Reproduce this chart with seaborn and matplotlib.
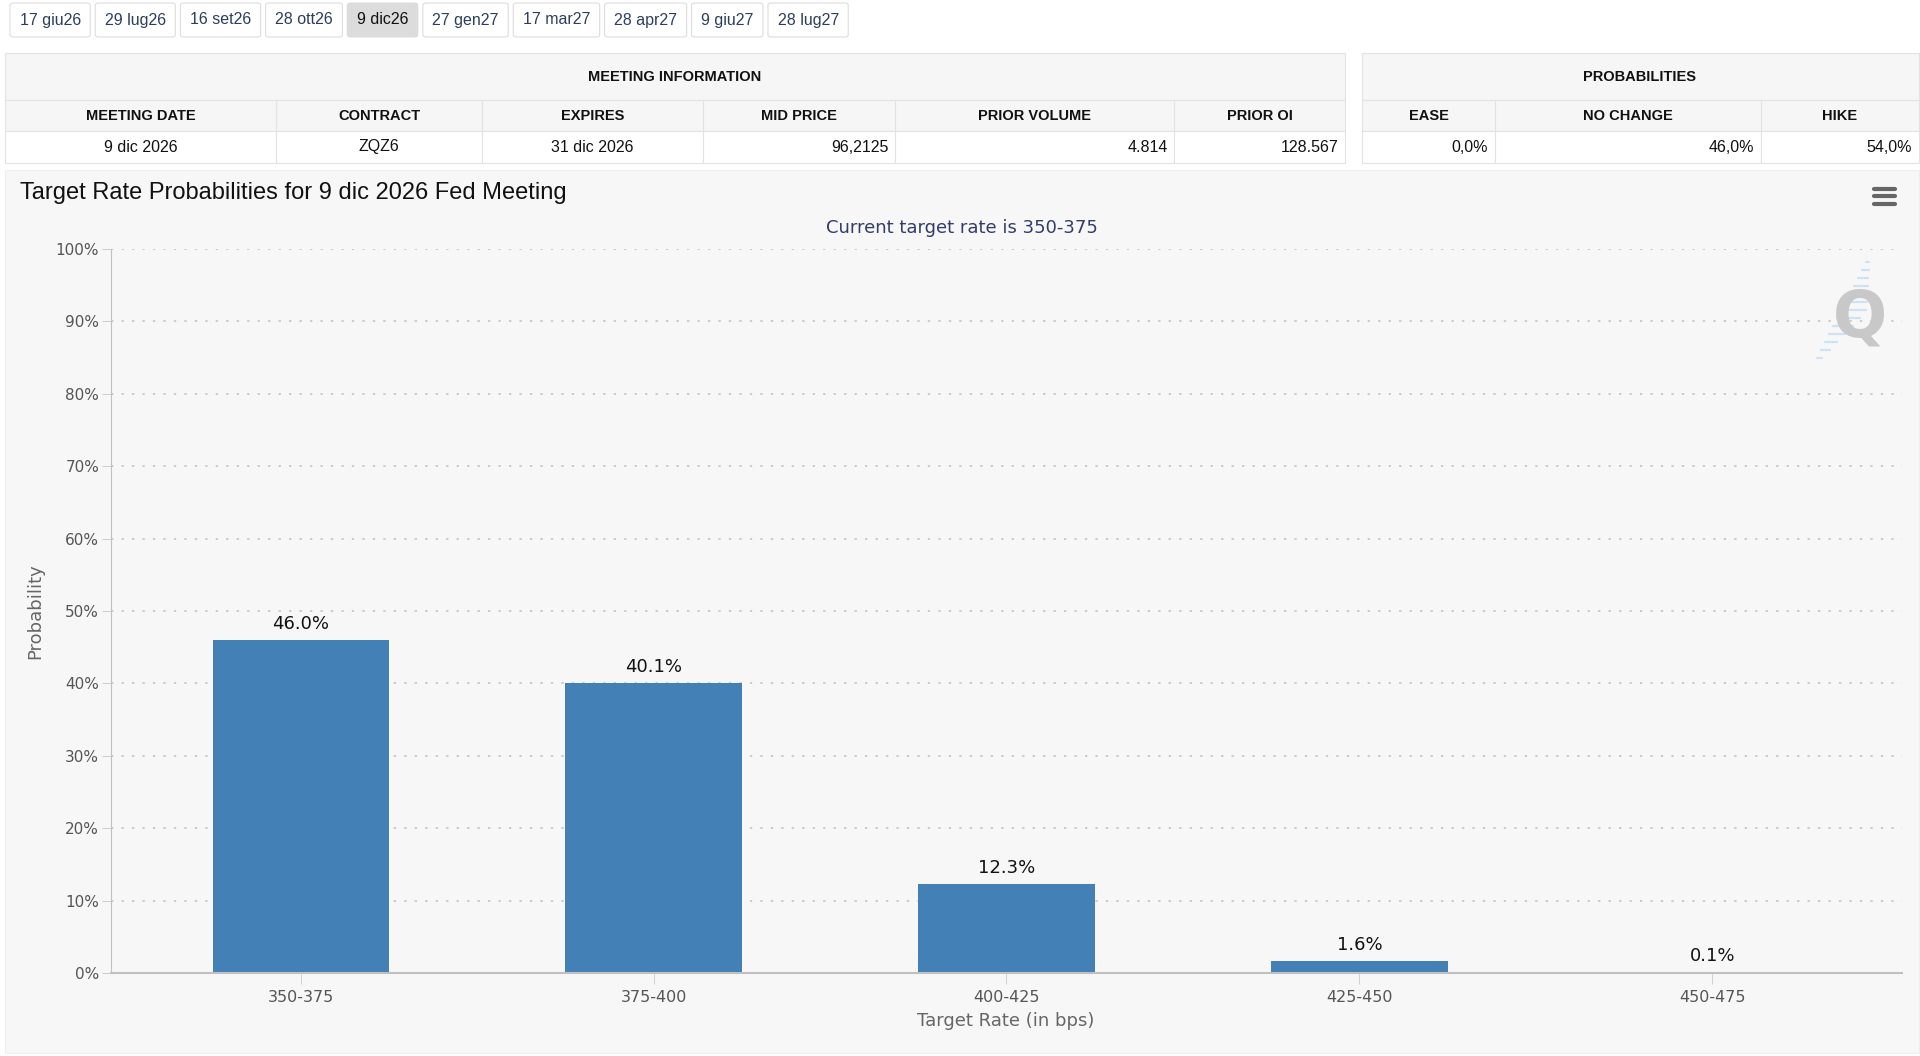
import matplotlib.pyplot as plt
import seaborn as sns
import pandas as pd
from matplotlib.patches import Rectangle, FancyBboxPatch
from matplotlib.lines import Line2D

# meeting selector buttons
meeting_buttons = ['17 giu26', '29 lug26', '16 set26', '28 ott26', '9 dic26',
                   '27 gen27', '17 mar27', '28 apr27', '9 giu27', '28 lug27']
selected_meeting = '9 dic26'

# meeting information table
info_headers = ['MEETING DATE', 'CONTRACT', 'EXPIRES', 'MID PRICE', 'PRIOR VOLUME', 'PRIOR OI']
info_values = ['9 dic 2026', 'ZQZ6', '31 dic 2026', '96,2125', '4.814', '128.567']
info_align = ['center', 'center', 'center', 'right', 'right', 'right']

# probabilities table
prob_headers = ['EASE', 'NO CHANGE', 'HIKE']
prob_values = ['0,0%', '46,0%', '54,0%']

# chart data
target_rates = ['350-375', '375-400', '400-425', '425-450', '450-475']
probabilities = [46.0, 40.1, 12.3, 1.6, 0.1]
current_rate = '350-375'
meeting_date = '9 dic 2026'

W, H = 1920, 1056


def fx(x):
    return x / W


def fy(y):
    return 1 - y / H


sns.set_theme(style='white')
plt.rcParams['font.family'] = ['DejaVu Sans']

fig = plt.figure(figsize=(19.2, 10.56), dpi=100, facecolor='white')
renderer = fig.canvas.get_renderer()
ui_font = 'Liberation Sans'


def box(x0, x1, y0, y1, fc, ec='#e3e3e3', lw=0.8):
    fig.patches.append(Rectangle((fx(x0), fy(y1)), fx(x1) - fx(x0), (y1 - y0) / H,
                                 transform=fig.transFigure, fc=fc, ec=ec, lw=lw, zorder=-2))


# --- buttons row
x = 10
for label in meeting_buttons:
    sel = label == selected_meeting
    t = fig.text(fx(x + 9.5), fy(20), label, fontsize=11.5, family=ui_font,
                 color='#111111' if sel else '#2c3e5c', va='center', zorder=3)
    w = t.get_window_extent(renderer).width + 19
    fig.patches.append(FancyBboxPatch((fx(x), fy(37)), w / W, 34 / H,
                                      boxstyle='round,pad=0,rounding_size=0.002',
                                      transform=fig.transFigure,
                                      fc='#dcdcdc' if sel else 'white',
                                      ec='#dddddd', lw=0.8, zorder=-1))
    x += w + 5

# --- meeting information table
info_edges = [5, 276, 482, 703, 895, 1174, 1345]
box(5, 1345, 53, 100, '#f6f6f6')
fig.text(fx(675), fy(77), 'MEETING INFORMATION', fontsize=10.5, weight='bold',
         family=ui_font, color='#111111', ha='center', va='center')
for i, (hdr, val) in enumerate(zip(info_headers, info_values)):
    x0, x1 = info_edges[i], info_edges[i + 1]
    box(x0, x1, 100, 131, '#f6f6f6')
    box(x0, x1, 131, 163, 'white')
    fig.text(fx((x0 + x1) / 2), fy(116), hdr, fontsize=10.5, weight='bold',
             family=ui_font, color='#111111', ha='center', va='center')
    if info_align[i] == 'right':
        fig.text(fx(x1 - 6), fy(147), val, fontsize=11.5, family=ui_font,
                 color='#111111', ha='right', va='center')
    else:
        fig.text(fx((x0 + x1) / 2), fy(147), val, fontsize=11.5, family=ui_font,
                 color='#111111', ha='center', va='center')

# --- probabilities table
prob_edges = [1362, 1495, 1761, 1919]
box(1362, 1919, 53, 100, '#f6f6f6')
fig.text(fx(1640), fy(77), 'PROBABILITIES', fontsize=10.5, weight='bold',
         family=ui_font, color='#111111', ha='center', va='center')
for i, (hdr, val) in enumerate(zip(prob_headers, prob_values)):
    x0, x1 = prob_edges[i], prob_edges[i + 1]
    box(x0, x1, 100, 131, '#f6f6f6')
    box(x0, x1, 131, 163, 'white')
    fig.text(fx((x0 + x1) / 2), fy(116), hdr, fontsize=10.5, weight='bold',
             family=ui_font, color='#111111', ha='center', va='center')
    fig.text(fx(x1 - 7), fy(147), val, fontsize=11.5, family=ui_font,
             color='#111111', ha='right', va='center')

# --- chart panel
box(5, 1919, 170, 1053, '#f7f7f7', ec='#eeeeee')
fig.text(fx(20), fy(193), f'Target Rate Probabilities for {meeting_date} Fed Meeting',
         fontsize=17, family=ui_font, color='#111111', va='center')
fig.text(fx(962), fy(228), f'Current target rate is {current_rate}', fontsize=13,
         color='#333c6b', ha='center', va='center')

# menu icon
for yy in (189, 196, 204):
    fig.lines.append(Line2D([fx(1874), fx(1895)], [fy(yy), fy(yy)], transform=fig.transFigure,
                            color='#666666', lw=3, solid_capstyle='round'))

ax = fig.add_axes([fx(111), fy(973), fx(1902) - fx(111), (973 - 249) / H])
ax.set_facecolor('none')
ax.set_zorder(2)

df = pd.DataFrame({'rate': target_rates, 'prob': probabilities})
sns.barplot(data=df, x='rate', y='prob', color='#4380b5', saturation=1,
            width=0.5, linewidth=0, ax=ax, zorder=3)

ax.set_xlim(-0.538, 4.538)
ax.set_ylim(0, 100)
ax.set_yticks(range(0, 101, 10))
ax.set_yticklabels([f'{v}%' for v in range(0, 101, 10)])

ax.yaxis.grid(True, color='#c8c8c8', linestyle=(0, (1.3, 4.5)), lw=1.3)
ax.xaxis.grid(False)
ax.set_axisbelow(True)

for s in ('top', 'right'):
    ax.spines[s].set_visible(False)
ax.spines['left'].set_color('#c0c0c0')
ax.spines['left'].set_linewidth(0.8)
ax.spines['bottom'].set_color('#c0c0c0')
ax.spines['bottom'].set_linewidth(1.5)
ax.spines['bottom'].set_zorder(4)

ax.tick_params(axis='y', left=True, length=6.5, width=0.7, color='#cccccc', pad=2,
               labelsize=11, labelcolor='#555555')
ax.tick_params(axis='x', bottom=True, length=8, width=0.7, color='#d0d0d0', pad=4,
               labelsize=11.5, labelcolor='#555555')

ax.bar_label(ax.containers[0], labels=[f'{v:.1f}%' for v in probabilities],
             padding=5, fontsize=13, color='#111111')

ax.set_ylabel('Probability', fontsize=13, color='#666666', va='center')
ax.yaxis.set_label_coords(-0.0424, 0.5)
ax.set_xlabel('Target Rate (in bps)', fontsize=13, color='#666666', va='center')
ax.xaxis.set_label_coords(0.4997, -0.0663)

# watermark logo
for k in range(13):
    yy = 262 + k * 8
    xd = 1868 - (yy - 258) * 55 / 107
    ln = max(3, 26 - abs(yy - 312) * 0.45)
    fig.lines.append(Line2D([fx(xd), fx(xd + ln)], [fy(yy), fy(yy)], transform=fig.transFigure,
                            color='#cfe2f3', lw=1.6, zorder=3))
fig.text(fx(1860), fy(318), 'Q', fontsize=46, weight='bold', color='#c8c8c8',
         ha='center', va='center', zorder=4)

fig.savefig('out.png', dpi=100)
